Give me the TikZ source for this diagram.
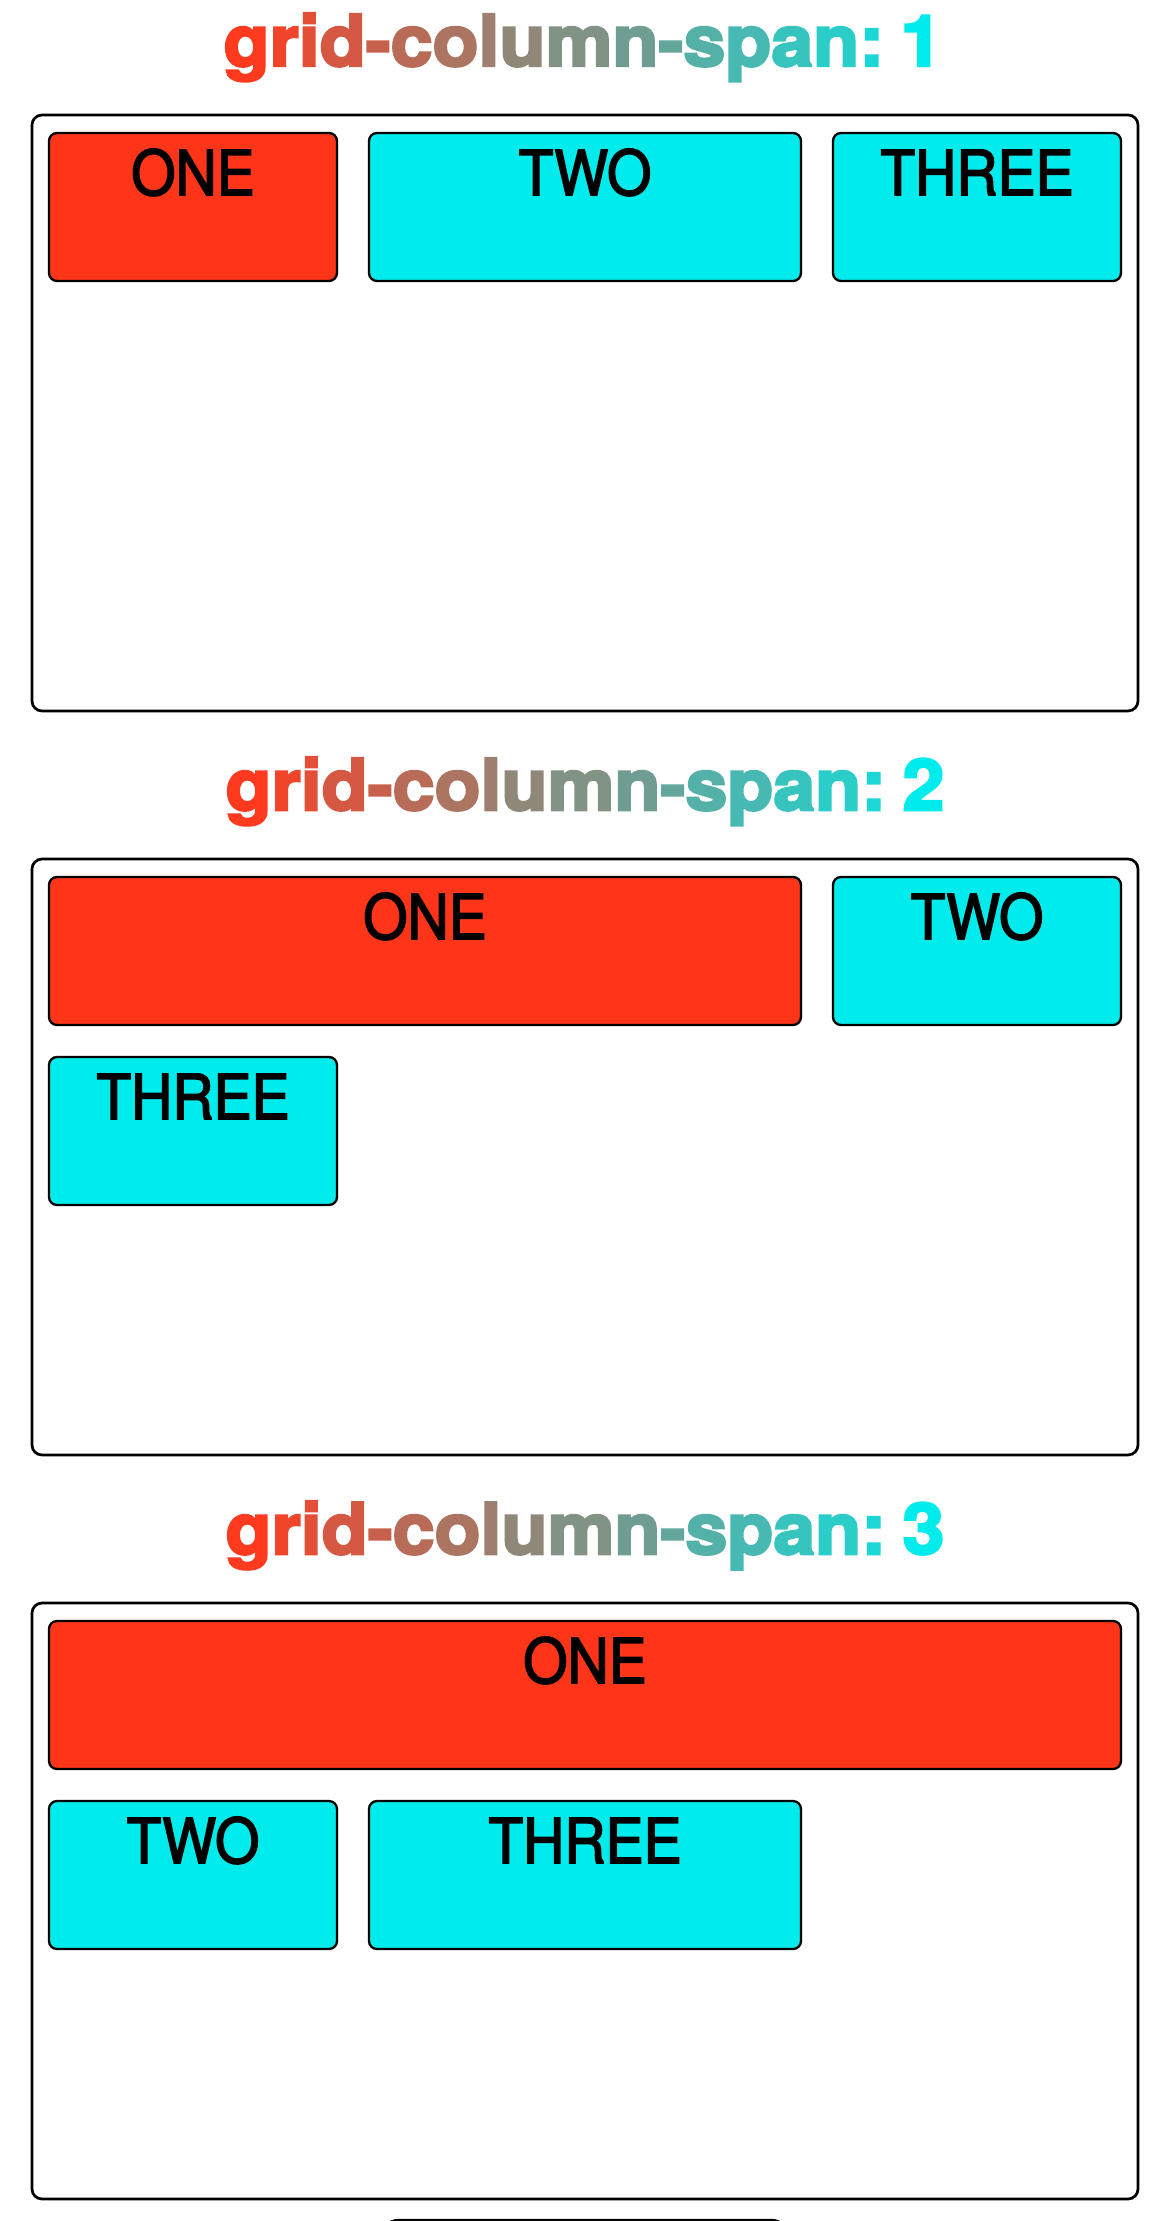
\documentclass[tikz,border=0pt]{standalone}
\usepackage{fontspec}
\newfontfamily\titlefontbase{TeX Gyre Heros}[BoldFeatures={FakeStretch=1.06,FakeBold=3.5}]
\newcommand\titlefont{\titlefontbase\bfseries}
\newfontfamily\boxfont{TeX Gyre Heros}[FakeStretch=0.92,FakeBold=2.5]
\definecolor{itemred}{HTML}{FF3519}
\definecolor{itemcyan}{HTML}{00EBEB}
\definecolor{gradA}{HTML}{FF3A1F}
\definecolor{gradB}{HTML}{00EBEB}
\ExplSyntaxOn
\int_new:N \l_grad_n_int
\int_new:N \l_grad_i_int
\NewDocumentCommand\gradtext{m}{
  \int_set:Nn \l_grad_n_int {\str_count:n {#1}}
  \int_zero:N \l_grad_i_int
  \str_map_inline:nn {#1}{
    \tl_if_blank:nTF {##1}
      {\hspace{0.23em}}
      {\textcolor{gradA!\int_eval:n{100 - 100*\l_grad_i_int/(\l_grad_n_int-1)}!gradB}{##1}}
    \int_incr:N \l_grad_i_int
  }
}
\ExplSyntaxOff
\tikzset{
  container/.style={draw=black, line width=1.35pt, rounded corners=5pt},
  itembox/.style={draw=black, line width=1.15pt, rounded corners=4pt},
  redbox/.style={itembox, fill=itemred},
  cyanbox/.style={itembox, fill=itemcyan},
  itemlabel/.style={font=\boxfont\fontsize{31}{31}\selectfont, anchor=base, inner sep=0pt},
  titlelabel/.style={font=\titlefont\fontsize{35.5}{35.5}\selectfont, anchor=base, inner sep=0pt}
}
\begin{document}
\begin{tikzpicture}[x=0.5pt, y=-0.5pt]
\useasboundingbox[fill=white] (0,0) rectangle (1170,2221);

% ---------- section 1 ----------
\node[titlelabel] (t1) at (583,66) {\gradtext{grid-column-span: 1}};
\draw[container] (32,115) rectangle (1138,711);
\draw[redbox]  (49,133) rectangle (337,281);
\draw[cyanbox] (369,133) rectangle (801,281);
\draw[cyanbox] (833,133) rectangle (1121,281);
\node[itemlabel] (a1) at (193,195) {ONE};
\node[itemlabel] (a2) at (585,195) {TWO};
\node[itemlabel] (a3) at (977,195) {THREE};

% ---------- section 2 ----------
\node[titlelabel] (t2) at (585,810) {\gradtext{grid-column-span: 2}};
\draw[container] (32,859) rectangle (1138,1455);
\draw[redbox]  (49,877) rectangle (801,1025);
\draw[cyanbox] (833,877) rectangle (1121,1025);
\draw[cyanbox] (49,1057) rectangle (337,1205);
\node[itemlabel] (b1) at (425,939) {ONE};
\node[itemlabel] (b2) at (977,939) {TWO};
\node[itemlabel] (b3) at (193,1119) {THREE};

% ---------- section 3 ----------
\node[titlelabel] (t3) at (585,1554) {\gradtext{grid-column-span: 3}};
\draw[container] (32,1603) rectangle (1138,2199);
\draw[redbox]  (49,1621) rectangle (1121,1769);
\draw[cyanbox] (49,1801) rectangle (337,1949);
\draw[cyanbox] (369,1801) rectangle (801,1949);
\node[itemlabel] (c1) at (585,1683) {ONE};
\node[itemlabel] (c2) at (193,1863) {TWO};
\node[itemlabel] (c3) at (585,1863) {THREE};

% partial shape at the bottom edge
\draw[line width=1.2pt, rounded corners=10pt] (379,2245) -- (379,2220) -- (791,2220) -- (791,2245);
\end{tikzpicture}
\end{document}
